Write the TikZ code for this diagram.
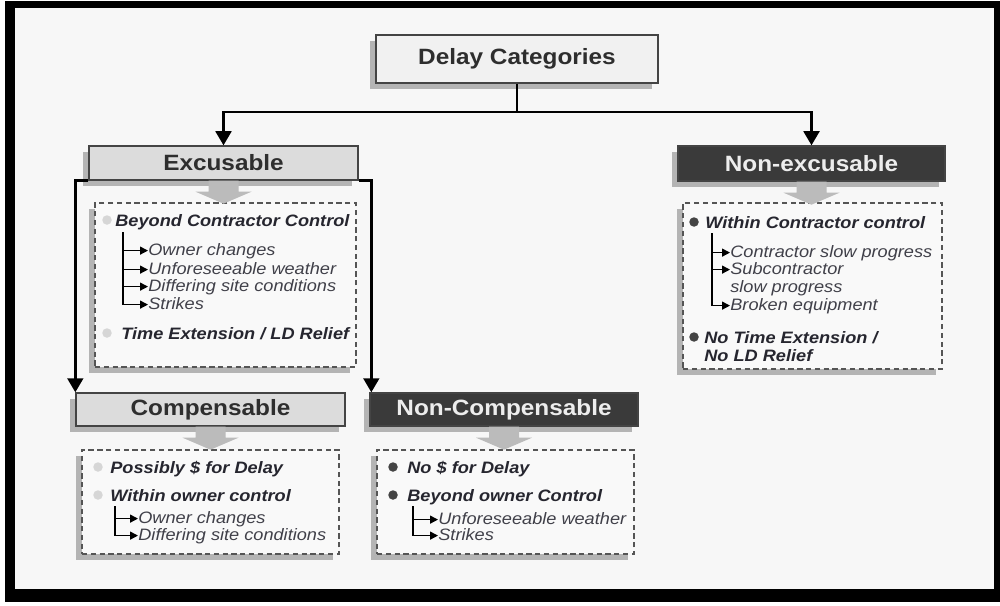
\documentclass[tikz,border=0pt]{standalone}
\usepackage{fontspec}
\setmainfont{Liberation Sans}[FakeStretch=1.1]
\usetikzlibrary{arrows.meta,shadows}

\definecolor{pagebg}{HTML}{F7F7F7}
\definecolor{boxbg}{HTML}{F9F9F9}
\definecolor{topfill}{HTML}{F1F1F1}
\definecolor{lightfill}{HTML}{DCDCDC}
\definecolor{darkfill}{HTML}{3A3A3A}
\definecolor{boxline}{HTML}{444444}
\definecolor{shadowgray}{HTML}{B4B4B4}
\definecolor{blockgray}{HTML}{BBBBBB}
\definecolor{dashgray}{HTML}{555555}
\definecolor{titletext}{HTML}{2E2E2E}
\definecolor{headtext}{HTML}{26262F}
\definecolor{itemtext}{HTML}{404049}
\definecolor{lightdotc}{HTML}{D6D6D6}
\definecolor{darkdotc}{HTML}{444444}

\begin{document}
\begin{tikzpicture}[x=0.02cm, y=-0.02cm,
  boxshadow/.style={drop shadow={shadow xshift=-0.12cm, shadow yshift=-0.12cm, fill=shadowgray, opacity=1}},
  titlebox/.style={draw=boxline, line width=0.8pt, inner sep=0pt, boxshadow,
    font=\fontsize{12.6}{14}\selectfont\bfseries},
  topbox/.style={titlebox, fill=topfill, text=titletext},
  lightbox/.style={titlebox, fill=lightfill, text=titletext},
  darkbox/.style={titlebox, fill=darkfill, text=white!93!black},
  dashbox/.style={draw=dashgray, line width=0.8pt, dash pattern=on 3pt off 2pt,
    fill=boxbg, inner sep=0pt, boxshadow},
  conn/.style={line width=1.4pt, black},
  arr/.style={conn, -{Triangle[width=9pt,length=8pt]}},
  tree/.style={line width=0.75pt, black, -{Triangle[width=4.5pt,length=4.5pt]}},
  blockarrow/.style={fill=blockgray},
  head/.style={anchor=base west, inner sep=0pt, text height=0.7em, text depth=0.2em,
    font=\fontsize{9.4}{11}\selectfont\bfseries\itshape, text=headtext},
  item/.style={anchor=base west, inner sep=0pt, text height=0.7em, text depth=0.2em,
    font=\fontsize{9.4}{11}\selectfont\itshape, text=itemtext},
  lightdot/.style={circle, fill=lightdotc, inner sep=0pt, minimum size=0.19cm},
  darkdot/.style={circle, fill=darkdotc, inner sep=0pt, minimum size=0.19cm}
]
\useasboundingbox (0,0) rectangle (1000,605);

% frame
\fill[white] (0,0) rectangle (1000,605);
\fill[black] (5,1) rectangle (1000,602);
\fill[pagebg] (15,8) rectangle (994,589);

% category boxes
\node[topbox, minimum width=5.64cm, minimum height=0.96cm] (top) at (517,59) {Delay Categories};
\node[lightbox, minimum width=5.38cm, minimum height=0.68cm] (exc) at (223.5,163) {Excusable};
\node[darkbox, minimum width=5.34cm, minimum height=0.70cm] (nonexc) at (811.5,163.5) {Non-excusable};
\node[lightbox, minimum width=5.38cm, minimum height=0.66cm] (comp) at (210.5,409.5) {Compensable};
\node[darkbox, minimum width=5.36cm, minimum height=0.66cm] (noncomp) at (504,409.5) {Non-Compensable};

% detail boxes
\node[dashbox, minimum width=5.22cm, minimum height=3.28cm] (excD) at (225.5,285) {};
\node[dashbox, minimum width=5.18cm, minimum height=3.32cm] (nonexcD) at (812.5,286) {};
\node[dashbox, minimum width=5.14cm, minimum height=2.08cm] (compD) at (210.5,502) {};
\node[dashbox, minimum width=5.14cm, minimum height=2.08cm] (noncompD) at (505.5,502) {};

% connectors
\coordinate (split) at (517,112);
\draw[conn] (top.south) -- (split);
\draw[arr] (split) -| (exc.north);
\draw[arr] (split) -| (nonexc.north);
\draw[arr] (exc.south west) -| (comp.north west);
\draw[arr] (exc.south east) -| ([xshift=0.04cm]noncomp.north west);

% block arrows from each category to its detail box
\foreach \b in {exc,nonexc,comp,noncomp}{
  \fill[blockarrow] (\b.south) ++(-15,0) -- ++(30,0) -- ++(0,11) -- ++(13,0)
    -- ++(-28,12) -- ++(-28,-12) -- ++(13,0) -- cycle;
}

% Excusable details
\node[lightdot] (d1) at (107,220) {};
\node[head] (h1) at (115,226) {Beyond Contractor Control};
\coordinate (t1) at (123,232);
\node[item] (e1) at (148,255) {Owner changes};
\node[item] (e2) at (148,274) {Unforeseeable weather};
\node[item] (e3) at (148,291) {Differing site conditions};
\node[item] (e4) at (148,309) {Strikes};
\foreach \i in {e1,e2,e3,e4} \draw[tree] (t1) |- (\i.west);
\node[lightdot] (d2) at (107,333) {};
\node[head] (h2) at (121,339) {Time Extension / LD Relief};

% Non-excusable details
\node[darkdot] (d3) at (694,222) {};
\node[head] (h3) at (705,228) {Within Contractor control};
\coordinate (t2) at (712,233);
\node[item] (n1) at (730,257) {Contractor slow progress};
\node[item] (n2) at (730,274) {Subcontractor};
\node[item] (n2b) at (730,292) {slow progress};
\node[item] (n3) at (730,310) {Broken equipment};
\foreach \i in {n1,n2,n3} \draw[tree] (t2) |- (\i.west);
\node[darkdot] (d4) at (694,337) {};
\node[head] (h4) at (704,343) {No Time Extension /};
\node[head] (h4b) at (704,361) {No LD Relief};

% Compensable details
\node[lightdot] (d5) at (98,467) {};
\node[head] (h5) at (110,473) {Possibly \$ for Delay};
\node[lightdot] (d6) at (98,495) {};
\node[head] (h6) at (110,501) {Within owner control};
\coordinate (t3) at (115,506);
\node[item] (c1) at (138,523) {Owner changes};
\node[item] (c2) at (138,540) {Differing site conditions};
\foreach \i in {c1,c2} \draw[tree] (t3) |- (\i.west);

% Non-Compensable details
\node[darkdot] (d7) at (393,467) {};
\node[head] (h7) at (407,473) {No \$ for Delay};
\node[darkdot] (d8) at (393,495) {};
\node[head] (h8) at (407,501) {Beyond owner Control};
\coordinate (t4) at (413,506);
\node[item] (k1) at (438,524) {Unforeseeable weather};
\node[item] (k2) at (438,540) {Strikes};
\foreach \i in {k1,k2} \draw[tree] (t4) |- (\i.west);
\end{tikzpicture}
\end{document}
